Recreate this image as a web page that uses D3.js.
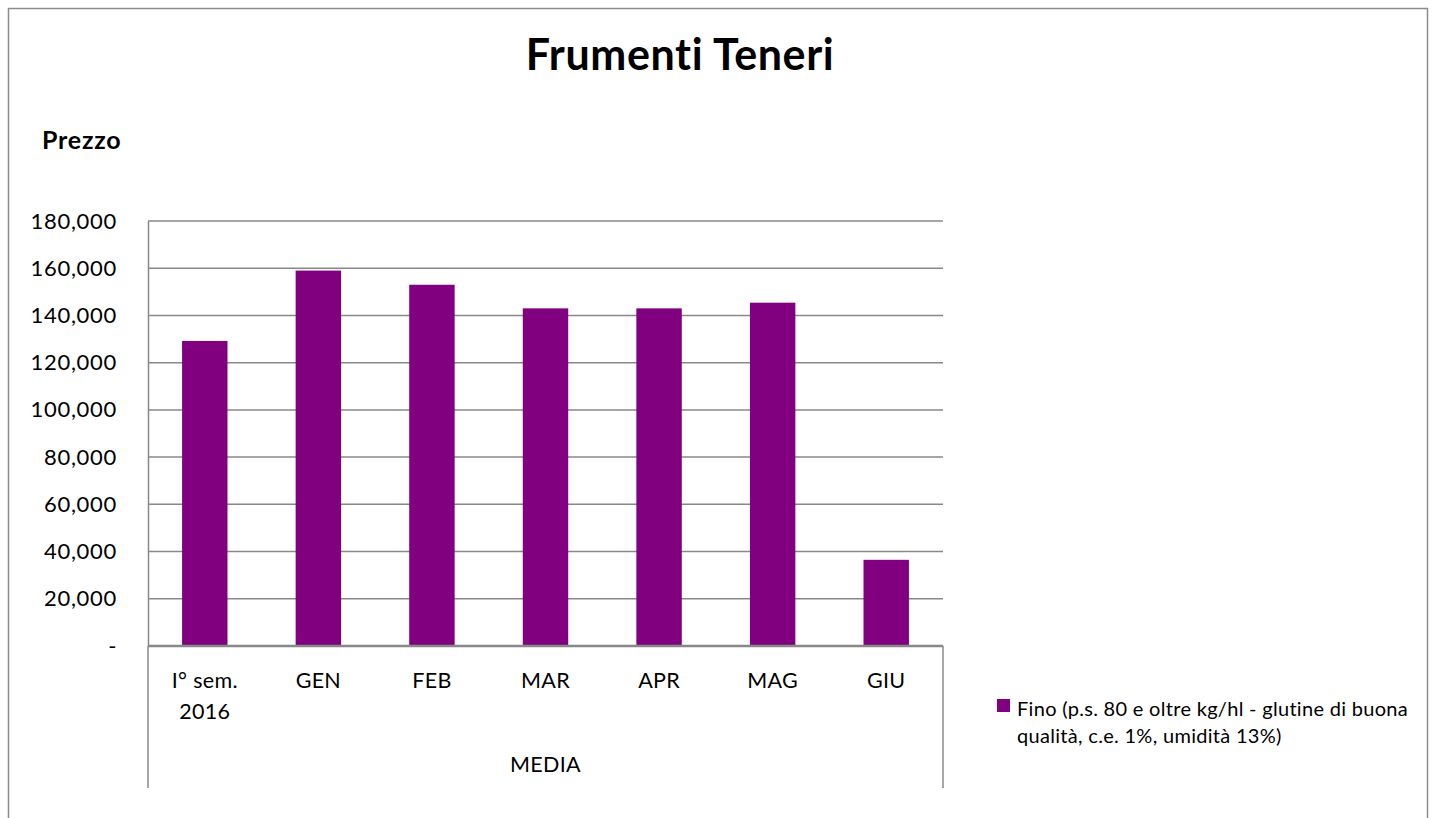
<!DOCTYPE html>
<html><head><meta charset="utf-8">
<script src="https://cdn.jsdelivr.net/npm/d3@7/dist/d3.min.js"></script>
<style>body{margin:0;background:#fff}svg{display:block}text{font-family:Lato,"Open Sans",sans-serif}</style>
</head><body><svg id="c" width="1437" height="818"></svg>
<script>
const categories = ["I° sem.|2016","GEN","FEB","MAR","APR","MAG","GIU"];
const values = [129.2, 159.0, 153.0, 143.0, 143.0, 145.4, 36.5];
const tickValues = [0,20,40,60,80,100,120,140,160,180];
const tickLabels = ["-","20,000","40,000","60,000","80,000","100,000","120,000","140,000","160,000","180,000"];
const groupLabel = "MEDIA";
const seriesName = ["Fino (p.s. 80 e oltre kg/hl - glutine di buona","qualità, c.e. 1%, umidità 13%)"];
const title = "Frumenti Teneri";
const yTitle = "Prezzo";

const svg = d3.select("#c");
const L=148,R=943,T=221,B=646;
const x = d3.scaleBand().domain(categories).range([L,R]).paddingInner(0.6).paddingOuter(0.3);
const y = d3.scaleLinear().domain([0,180]).range([B,T]);

// chart border
svg.append("rect").attr("x",8.5).attr("y",8.5).attr("width",1419).attr("height",830).attr("fill","none").attr("stroke","#8c8c8c").attr("stroke-width",1.5);

svg.append("text").attr("x",680).attr("y",70).attr("text-anchor","middle").attr("font-size",43).attr("letter-spacing",0.6).attr("font-weight","bold").text(title);
svg.append("text").attr("x",42).attr("y",149).attr("font-size",25).attr("letter-spacing",0.8).attr("font-weight","bold").text(yTitle);

// gridlines
svg.append("g").selectAll("line").data(tickValues.filter(d=>d>0)).join("line")
 .attr("x1",L).attr("x2",R).attr("y1",d=>y(d)).attr("y2",d=>y(d)).attr("stroke","#888").attr("stroke-width",1.5);

// y axis
const yAxis = d3.axisLeft(y).tickValues(tickValues).tickFormat((d,i)=>tickLabels[i]).tickSize(0).tickPadding(31);
const gy = svg.append("g").attr("transform",`translate(${L},0)`).call(yAxis);
gy.select(".domain").attr("stroke","#888").attr("stroke-width",1.5);
gy.selectAll("text").attr("font-size",22).attr("letter-spacing",0.7).attr("fill","#000").attr("font-family","Lato,'Open Sans',sans-serif");

// bars
svg.append("g").selectAll("rect").data(values).join("rect")
 .attr("x",(d,i)=>x(categories[i])).attr("width",x.bandwidth())
 .attr("y",d=>y(d)).attr("height",d=>B-y(d)).attr("fill","#800080");

// x axis
svg.append("line").attr("x1",L).attr("x2",R).attr("y1",B).attr("y2",B).attr("stroke","#888").attr("stroke-width",2.5);
svg.append("line").attr("x1",L).attr("x2",L).attr("y1",B).attr("y2",788).attr("stroke","#888").attr("stroke-width",1.5);
svg.append("line").attr("x1",R).attr("x2",R).attr("y1",B).attr("y2",788).attr("stroke","#888").attr("stroke-width",1.5);

const cx = d=>x(d)+x.bandwidth()/2;
const cl = svg.append("g").selectAll("text").data(categories).join("text")
 .attr("x",cx).attr("y",688).attr("text-anchor","middle").attr("font-size",21.5).attr("letter-spacing",0.3);
cl.each(function(d){
  const parts=d.split("|"); const t=d3.select(this);
  parts.forEach((p,j)=>t.append("tspan").attr("x",cx(d)).attr("dy",j?31:0).text(p));
});
svg.append("text").attr("x",(L+R)/2).attr("y",772).attr("text-anchor","middle").attr("font-size",21.5).attr("letter-spacing",0.3).text(groupLabel);

// legend
svg.append("rect").attr("x",997).attr("y",699).attr("width",13).attr("height",13).attr("fill","#800080");
svg.append("g").selectAll("text").data(seriesName).join("text")
 .attr("x",1017).attr("y",(d,i)=>716+i*27).attr("font-size",20).attr("letter-spacing",0.3).text(d=>d);
</script></body></html>
